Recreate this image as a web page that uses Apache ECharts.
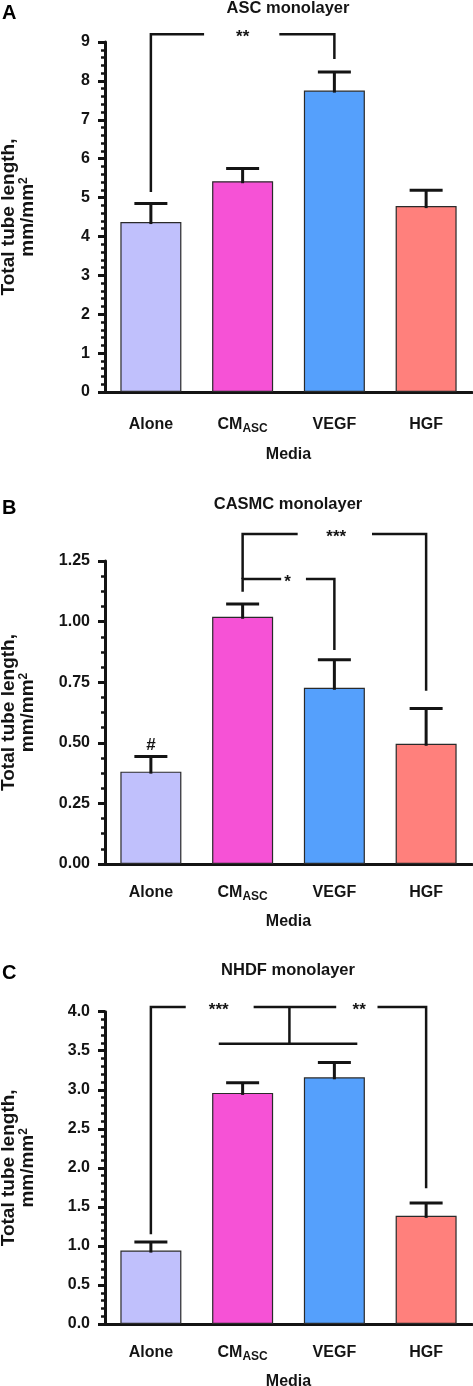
<!DOCTYPE html>
<html><head><meta charset="utf-8">
<script src="https://cdn.jsdelivr.net/npm/echarts@6/dist/echarts.min.js"></script>
<style>html,body{margin:0;padding:0;background:#fff}#c{width:473px;height:1386px}</style>
</head><body><div id="c"></div>
<script>
// ---------- data ----------
const categories = ['Alone', 'CM_ASC', 'VEGF', 'HGF'];
const barColors = ['#c0c0fc', '#f652d6', '#55a0fc', '#ff807c'];

const ascMean = [4.37, 5.42, 7.75, 4.78];
const ascSem  = [0.48, 0.33, 0.48, 0.41];
const casmcMean = [0.381, 1.02, 0.727, 0.496];
const casmcSem  = [0.062, 0.053, 0.116, 0.146];
const nhdfMean = [0.94, 2.96, 3.16, 1.385];
const nhdfSem  = [0.11, 0.13, 0.19, 0.165];

const ascTicks = [0, 1, 2, 3, 4, 5, 6, 7, 8, 9];
const casmcTicks = ['0.00', '0.25', '0.50', '0.75', '1.00', '1.25'];
const nhdfTicks = ['0.0', '0.5', '1.0', '1.5', '2.0', '2.5', '3.0', '3.5', '4.0'];

// significance brackets (category index on x, data value on y)
const ascBrackets = [
  [[0, 5.14], [0, 9.2], [0.58, 9.2]],
  [[1.40, 9.2], [2.0, 9.2], [2.0, 8.56]]
];
const ascMarks = [['**', 1.0, 9.2]];

const casmcBrackets = [
  [[1.0, 1.123], [1.0, 1.176], [1.42, 1.176]],
  [[1.69, 1.176], [2.0, 1.176], [2.0, 0.883]],
  [[1.0, 1.176], [1.0, 1.361], [1.60, 1.361]],
  [[2.41, 1.361], [3.0, 1.361], [3.0, 0.715]]
];
const casmcMarks = [['*', 1.49, 1.176], ['***', 2.02, 1.361], ['#', 0, 0.49]];

const nhdfBrackets = [
  [[0, 1.15], [0, 4.06], [0.38, 4.06]],
  [[1.12, 4.06], [2.02, 4.06]],
  [[2.47, 4.06], [3.0, 4.06], [3.0, 1.74]],
  [[1.51, 4.06], [1.51, 3.59]],
  [[0.74, 3.59], [2.25, 3.59]]
];
const nhdfMarks = [['***', 0.74, 4.06], ['**', 2.27, 4.06]];

// ---------- layout ----------
const FONT = '"Liberation Sans", Arial, Helvetica, sans-serif';
const INK = '#141414';
const panels = [
  { letter: 'A', title: 'ASC monolayer', mean: ascMean, sem: ascSem, ticks: ascTicks, brackets: ascBrackets, marks: ascMarks,
    min: 0, max: 9, interval: 1, minorSplit: 5, top: 42, height: 350, titleY: 8.5, letterY: 12, xTick: 14, xLabelMargin: 23, nameGap: 55 },
  { letter: 'B', title: 'CASMC monolayer', mean: casmcMean, sem: casmcSem, ticks: casmcTicks, brackets: casmcBrackets, marks: casmcMarks,
    min: 0, max: 1.25, interval: 0.25, minorSplit: 4, top: 561, height: 303, titleY: 504.5, letterY: 507.5, xTick: 11, xLabelMargin: 19, nameGap: 50 },
  { letter: 'C', title: 'NHDF monolayer', mean: nhdfMean, sem: nhdfSem, ticks: nhdfTicks, brackets: nhdfBrackets, marks: nhdfMarks,
    min: 0, max: 4, interval: 0.5, minorSplit: 5, top: 1011.7, height: 312.3, titleY: 970, letterY: 972.5, xTick: 11, xLabelMargin: 19, nameGap: 50 }
];

const grid = [], xAxis = [], yAxis = [], series = [], graphic = [];
panels.forEach((p, k) => {
  grid.push({ left: 105, width: 367, top: p.top, height: p.height, outerBoundsMode: 'none', containLabel: false });
  // visible category axis
  xAxis.push({
    type: 'category', gridIndex: k, data: categories,
    name: 'Media', nameLocation: 'middle', nameGap: p.nameGap,
    nameTextStyle: { fontFamily: FONT, fontWeight: 'bold', fontSize: 16, color: INK },
    axisLine: { onZero: false, lineStyle: { color: INK, width: 3 } },
    axisTick: { alignWithLabel: true, length: p.xTick, lineStyle: { color: INK, width: 3 } },
    axisLabel: {
      interval: 0, hideOverlap: false,
      fontFamily: FONT, fontWeight: 'bold', fontSize: 16, color: INK, margin: p.xLabelMargin, lineHeight: 20,
      formatter: v => v === 'CM_ASC' ? 'CM{sub|ASC}' : v,
      rich: { sub: { fontFamily: FONT, fontWeight: 'bold', fontSize: 12, lineHeight: 12, verticalAlign: 'bottom', color: INK } }
    },
    splitLine: { show: false }
  });
  // hidden value axis for annotations
  xAxis.push({ type: 'value', gridIndex: k, min: -0.5, max: 3.5, show: false, splitLine: { show: false } });
  const dec = String(p.ticks[1]).split('.')[1];
  const decimals = dec ? dec.length : 0;
  yAxis.push({
    type: 'value', gridIndex: k, min: p.min, max: p.max, interval: p.interval,
    name: 'Total tube length,\nmm/mm{sup|2}', nameLocation: 'middle', nameGap: 68, nameRotate: 90,
    nameTextStyle: {
      fontFamily: FONT, fontWeight: 'bold', fontSize: 19, lineHeight: 19, color: INK, align: 'center',
      rich: { sup: { fontFamily: FONT, fontWeight: 'bold', fontSize: 12, lineHeight: 12, verticalAlign: 'top', color: INK } }
    },
    axisLine: { show: true, onZero: false, lineStyle: { color: INK, width: 3 } },
    axisTick: { show: true, length: 7, lineStyle: { color: INK, width: 3 } },
    minorTick: { show: true, splitNumber: p.minorSplit, length: 4, lineStyle: { color: INK, width: 2.5 } },
    axisLabel: {
      fontFamily: FONT, fontWeight: 'bold', fontSize: 16, color: INK, margin: 15,
      formatter: v => v.toFixed(decimals)
    },
    splitLine: { show: false }
  });
  const catX = 2 * k, valX = 2 * k + 1;
  series.push({
    type: 'bar', xAxisIndex: catX, yAxisIndex: k, barWidth: 61,
    data: p.mean.map((v, i) => ({ value: v, itemStyle: { color: barColors[i] } })),
    itemStyle: { borderColor: '#2a2a2a', borderWidth: 1.2 },
    silent: true, animation: false
  });
  series.push({
    type: 'custom', xAxisIndex: catX, yAxisIndex: k, silent: true, animation: false, z: 5,
    data: p.mean.map((v, i) => [i, v, v + p.sem[i]]),
    renderItem: (params, api) => {
      const a = api.coord([api.value(0), api.value(1)]);
      const b = api.coord([api.value(0), api.value(2)]);
      const st = { stroke: INK, lineWidth: 3 };
      return { type: 'group', children: [
        { type: 'line', shape: { x1: a[0], y1: a[1] + 2, x2: b[0], y2: b[1] }, style: st },
        { type: 'line', shape: { x1: b[0] - 16.5, y1: b[1], x2: b[0] + 16.5, y2: b[1] }, style: st }
      ] };
    }
  });
  p.brackets.forEach(line => {
    series.push({
      type: 'line', xAxisIndex: valX, yAxisIndex: k, data: line, symbol: 'none', clip: false,
      lineStyle: { color: INK, width: 2.5, cap: 'butt', join: 'miter' }, silent: true, animation: false, z: 6
    });
  });
  series.push({
    type: 'custom', xAxisIndex: valX, yAxisIndex: k, silent: true, animation: false, clip: false, z: 7,
    data: p.marks.map(m => [m[1], m[2]]),
    renderItem: (params, api) => {
      const pt = api.coord([api.value(0), api.value(1)]);
      const txt = p.marks[params.dataIndex][0];
      const isStar = txt[0] === '*';
      return { type: 'text', x: pt[0], y: pt[1] + (isStar ? 3.5 : 0),
        style: { text: txt, fontFamily: FONT, fontWeight: 'bold', fontSize: isStar ? 17 : 17, fill: INK,
                 align: 'center', verticalAlign: 'middle' } };
    }
  });
  graphic.push({ type: 'text', left: 2, top: p.letterY - 9,
    style: { text: p.letter, fontFamily: FONT, fontWeight: 'bold', fontSize: 20, fill: '#000' } });
  graphic.push({ type: 'text', x: 288, y: p.titleY,
    style: { text: p.title, fontFamily: FONT, fontWeight: 'bold', fontSize: 16.5, fill: INK, align: 'center', verticalAlign: 'middle' } });
});

const chart = echarts.init(document.getElementById('c'), null, { renderer: 'canvas' });
chart.setOption({ animation: false, backgroundColor: '#fff', grid, xAxis, yAxis, series, graphic });
</script>
</body></html>
